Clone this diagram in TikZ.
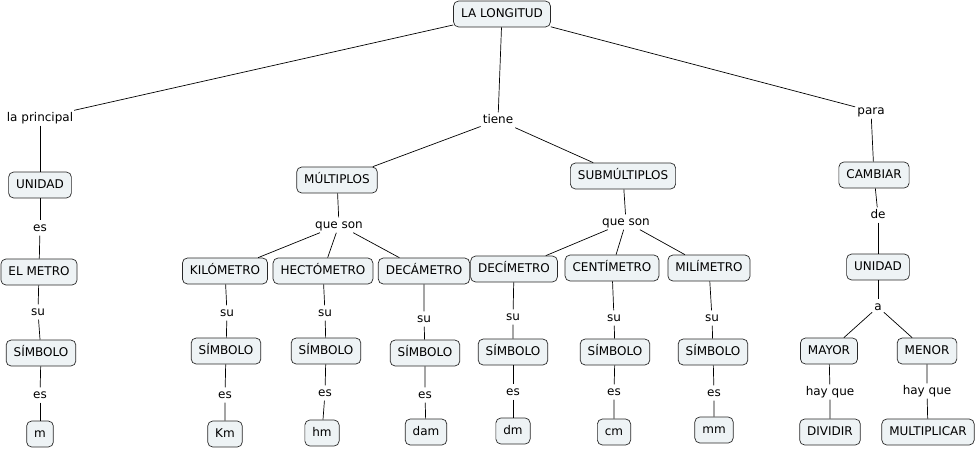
\documentclass[tikz,border=0pt]{standalone}
\usepackage{fontspec}
\setmainfont{DejaVu Sans}
\usepackage{xcolor}
\usepackage{tikz}
\usetikzlibrary{positioning}

\definecolor{conceptfill}{RGB}{238,243,245}
\definecolor{conceptdraw}{RGB}{40,40,40}

\begin{document}
\begin{tikzpicture}[
  x=1pt, y=-1pt,
  every node/.style={font=\fontsize{12}{14}\selectfont},
  concept/.style={draw=conceptdraw, fill=conceptfill, rounded corners=5pt, line width=0.7pt,
    minimum height=26pt, inner xsep=7.5pt, text height=9pt, text depth=2pt},
  link/.style={inner sep=2pt, text height=9pt, text depth=2pt},
  line/.style={line width=0.7pt, black}
]
  \useasboundingbox (0,0) rectangle (980,448);

  % Root and first level
  \node (longitud) [concept] at (502,14) {LA LONGITUD};
  \node (principal) [link] at (40,118) {la principal};
  \node (tiene) [link] at (498,120) {tiene};
  \node (para) [link] at (871,111) {para};

  % Left branch: the main unit
  \node (unidad) [concept] at (40,185) {UNIDAD};
  \node (esUnidad) [link] at (40,228) {es};
  \node (metro) [concept] at (39,272) {EL METRO};
  \node (suMetro) [link] at (38,312) {su};
  \node (simMetro) [concept] at (41,353) {SÍMBOLO};
  \node (esMetro) [link] at (40,395) {es};
  \node (symM) [concept] at (40,434) {m};

  % Middle branch: multiples and submultiples
  \node (multiplos) [concept] at (337,180) {MÚLTIPLOS};
  \node (queMul) [link] at (339,225) {que son};
  \node (submultiplos) [concept] at (623,176) {SUBMÚLTIPLOS};
  \node (queSub) [link] at (626,222) {que son};

  \node (kilo) [concept] at (225,271) {KILÓMETRO};
  \node (hecto) [concept] at (323,271) {HECTÓMETRO};
  \node (deca) [concept] at (424,271) {DECÁMETRO};
  \node (deci) [concept] at (514,269) {DECÍMETRO};
  \node (centi) [concept] at (612,268) {CENTÍMETRO};
  \node (mili) [concept] at (709,268) {MILÍMETRO};

  \node (suKilo) [link] at (227,313) {su};
  \node (suHecto) [link] at (325,313) {su};
  \node (suDeca) [link] at (424,319) {su};
  \node (suDeci) [link] at (513,317) {su};
  \node (suCenti) [link] at (614,318) {su};
  \node (suMili) [link] at (712,318) {su};

  \node (simKilo) [concept] at (226,351) {SÍMBOLO};
  \node (simHecto) [concept] at (326,351) {SÍMBOLO};
  \node (simDeca) [concept] at (425,353) {SÍMBOLO};
  \node (simDeci) [concept] at (513,352) {SÍMBOLO};
  \node (simCenti) [concept] at (615,352) {SÍMBOLO};
  \node (simMili) [concept] at (713,352) {SÍMBOLO};

  \node (esKilo) [link] at (225,395) {es};
  \node (esHecto) [link] at (325,393) {es};
  \node (esDeca) [link] at (425,395) {es};
  \node (esDeci) [link] at (513,392) {es};
  \node (esCenti) [link] at (614,392) {es};
  \node (esMili) [link] at (714,393) {es};

  \node (symKm) [concept] at (225,434) {Km};
  \node (symHm) [concept] at (322,433) {hm};
  \node (symDam) [concept] at (426,432) {dam};
  \node (symDm) [concept] at (513,431) {dm};
  \node (symCm) [concept] at (614,432) {cm};
  \node (symMm) [concept] at (714,430) {mm};

  % Right branch: changing units
  \node (cambiar) [concept] at (874,175) {CAMBIAR};
  \node (de) [link] at (878,215) {de};
  \node (unidadB) [concept] at (878,267) {UNIDAD};
  \node (a) [link] at (878,307) {a};
  \node (mayor) [concept] at (829,351) {MAYOR};
  \node (menor) [concept] at (927,351) {MENOR};
  \node (hayMayor) [link] at (830,392) {hay que};
  \node (hayMenor) [link] at (927,391) {hay que};
  \node (dividir) [concept] at (830,432) {DIVIDIR};
  \node (multiplicar) [concept] at (928,432) {MULTIPLICAR};

  % Connectors
  \draw[line] (longitud) -- (principal);
  \draw[line] (longitud) -- (tiene);
  \draw[line] (longitud) -- (para);

  \draw[line] (principal) -- (unidad);
  \draw[line] (unidad) -- (esUnidad);
  \draw[line] (esUnidad) -- (metro);
  \draw[line] (metro) -- (suMetro);
  \draw[line] (suMetro) -- (simMetro);
  \draw[line] (simMetro) -- (esMetro);
  \draw[line] (esMetro) -- (symM);

  \draw[line] (tiene) -- (multiplos);
  \draw[line] (tiene) -- (submultiplos);
  \draw[line] (multiplos) -- (queMul);
  \draw[line] (submultiplos) -- (queSub);
  \draw[line] (queMul) -- (kilo);
  \draw[line] (queMul) -- (hecto);
  \draw[line] (queMul) -- (deca);
  \draw[line] (queSub) -- (deci);
  \draw[line] (queSub) -- (centi);
  \draw[line] (queSub) -- (mili);

  \draw[line] (kilo) -- (suKilo) -- (simKilo);
  \draw[line] (hecto) -- (suHecto) -- (simHecto);
  \draw[line] (deca) -- (suDeca) -- (simDeca);
  \draw[line] (deci) -- (suDeci) -- (simDeci);
  \draw[line] (centi) -- (suCenti) -- (simCenti);
  \draw[line] (mili) -- (suMili) -- (simMili);

  \draw[line] (simKilo) -- (esKilo) -- (symKm);
  \draw[line] (simHecto) -- (esHecto) -- (symHm);
  \draw[line] (simDeca) -- (esDeca) -- (symDam);
  \draw[line] (simDeci) -- (esDeci) -- (symDm);
  \draw[line] (simCenti) -- (esCenti) -- (symCm);
  \draw[line] (simMili) -- (esMili) -- (symMm);

  \draw[line] (para) -- (cambiar);
  \draw[line] (cambiar) -- (de);
  \draw[line] (de) -- (unidadB);
  \draw[line] (unidadB) -- (a);
  \draw[line] (a) -- (mayor);
  \draw[line] (a) -- (menor);
  \draw[line] (mayor) -- (hayMayor) -- (dividir);
  \draw[line] (menor) -- (hayMenor) -- (multiplicar);

\end{tikzpicture}
\end{document}
